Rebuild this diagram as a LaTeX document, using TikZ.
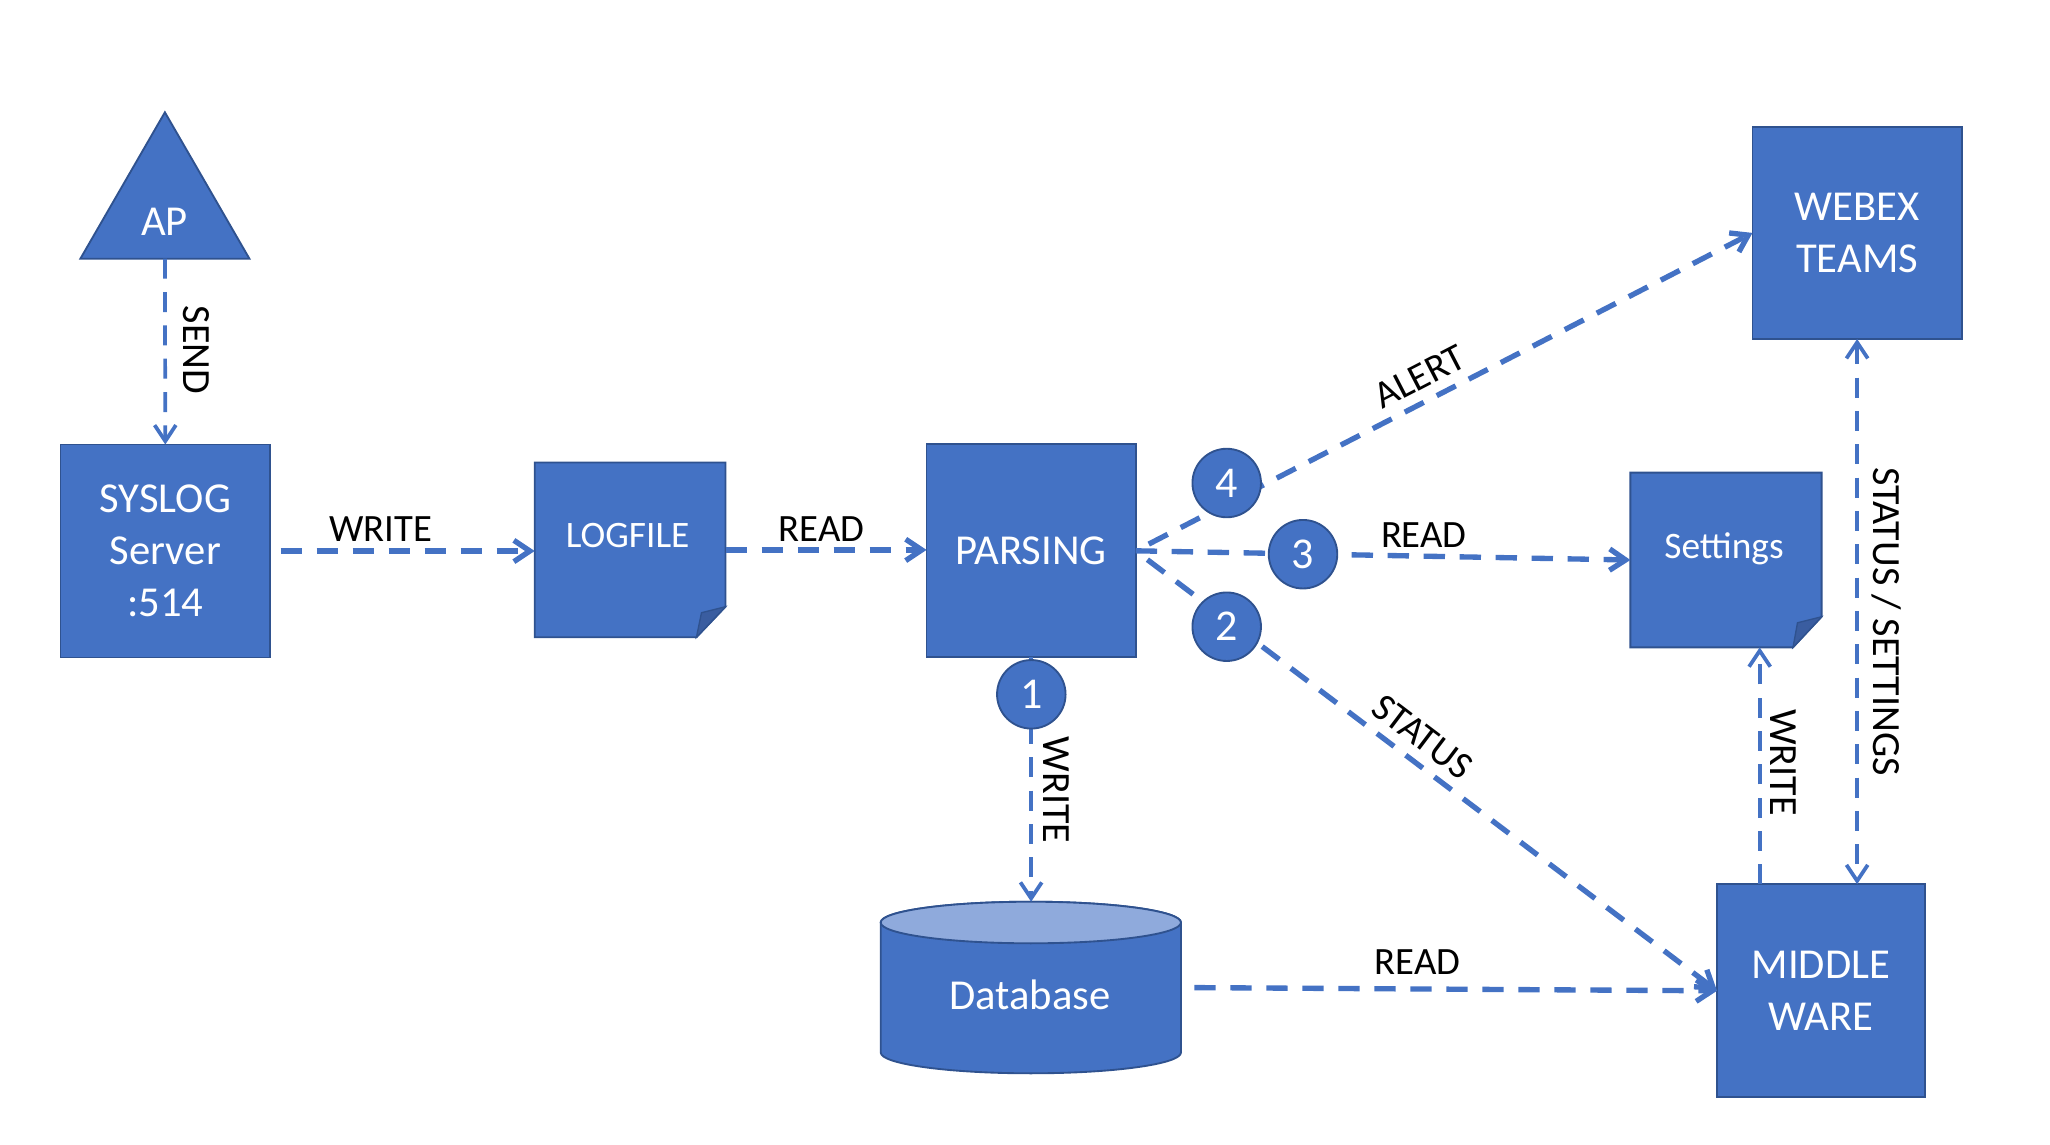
\documentclass[tikz,border=0pt]{standalone}
\usepackage{fontspec}
\setmainfont{Carlito}
\usetikzlibrary{arrows.meta,shapes.geometric,calc}
\definecolor{boxblue}{HTML}{4472C4}
\definecolor{boxedge}{HTML}{2F528F}
\definecolor{dbtop}{HTML}{8FAADC}
\definecolor{folddark}{HTML}{3A5DA0}
\begin{document}
\begin{tikzpicture}[x=0.375pt,y=-0.375pt,
  box/.style={draw=boxedge, fill=boxblue, line width=0.7pt, text=white,
    font=\fontsize{16}{19.5}\selectfont, align=center, inner sep=0pt, outer sep=0pt},
  anchorbox/.style={inner sep=0pt, outer sep=0pt},
  intext/.style={text=white, inner sep=0pt, font=\fontsize{16}{19.5}\selectfont},
  smalltext/.style={text=white, inner sep=0pt, font=\fontsize{14}{17}\selectfont},
  num/.style={circle, draw=boxedge, fill=boxblue, line width=0.7pt, text=white,
    minimum size=25.7pt, inner sep=0pt, font=\fontsize{16.5}{19}\selectfont},
  tipb/.tip={Straight Barb[length=6pt,width=8pt]},
  flow/.style={draw=boxblue, line width=2pt, dash pattern=on 8pt off 5.5pt, -tipb},
  thinflow/.style={draw=boxblue, line width=1.4pt, dash pattern=on 7.5pt off 5pt, -tipb},
  gapstart/.style={dash phase=8pt},
  lbl/.style={font=\fontsize{14.5}{17}\selectfont, text=black, inner sep=0pt},
  vlbl/.style={font=\fontsize{15}{17}\selectfont, text=black, inner sep=0pt, rotate=-90},
]
\useasboundingbox (0,0) rectangle (2050,1144);

% AP triangle
\node[regular polygon, regular polygon sides=3, minimum size=73.2pt, inner sep=0pt,
  outer sep=0pt, draw=boxedge, fill=boxblue, line width=0.7pt] (ap) at (164.9,209.9) {};
\node[intext] (aptext) at (164.6,221.6) {AP};

% SYSLOG
\node[box, minimum width=78.6pt, minimum height=79.9pt] (syslog) at (165.3,551) {SYSLOG\\Server\\:514};

% LOGFILE (note with folded corner)
\node[anchorbox, minimum width=71.55pt, minimum height=65.55pt] (lf) at (630.1,549.9) {};
\filldraw[draw=boxedge, fill=boxblue, line width=0.7pt]
  (lf.north west) -- (lf.north east) -- ($(lf.south east)+(0,-30.6)$)
  -- ($(lf.south east)+(-29.1,0)$) -- (lf.south west) -- cycle;
\filldraw[draw=boxedge, fill=folddark, line width=0.5pt]
  ($(lf.south east)+(0,-30.6)$) -- ($(lf.south east)+(-24,-24.6)$)
  -- ($(lf.south east)+(-29.1,0)$) -- cycle;
\node[smalltext] (lftext) at ($(lf.center)+(-2.5,-14)$) {LOGFILE};

% PARSING
\node[box, minimum width=78.45pt, minimum height=79.9pt] (parse) at (1031.1,550.8) {PARSING};

% Settings (note with folded corner)
\node[anchorbox, minimum width=71.7pt, minimum height=65.5pt] (set) at (1726,560) {};
\filldraw[draw=boxedge, fill=boxblue, line width=0.7pt]
  (set.north west) -- (set.north east) -- ($(set.south east)+(0,-30.6)$)
  -- ($(set.south east)+(-28.6,0)$) -- (set.south west) -- cycle;
\filldraw[draw=boxedge, fill=folddark, line width=0.5pt]
  ($(set.south east)+(0,-30.6)$) -- ($(set.south east)+(-24.1,-24.6)$)
  -- ($(set.south east)+(-28.6,0)$) -- cycle;
\node[smalltext] (settext) at (1724,549) {Settings};

% WEBEX TEAMS
\node[box, minimum width=78.45pt, minimum height=79.6pt] (webex) at (1857.1,232.9) {WEBEX\\TEAMS};

% MIDDLE WARE
\node[box, minimum width=78pt, minimum height=79.9pt] (mw) at (1821,990.8) {MIDDLE\\WARE};

% Database cylinder
\node[anchorbox, minimum width=112.6pt, minimum height=64.35pt] (db) at (1030.8,987.5) {};
\filldraw[draw=boxedge, fill=boxblue, line width=0.7pt]
  (880.7,922.5) -- (880.7,1052.5)
  arc[start angle=180, end angle=360, x radius=56.3pt, y radius=7.8pt]
  -- (1181,922.5)
  arc[start angle=0, end angle=180, x radius=56.3pt, y radius=7.8pt] -- cycle;
\filldraw[draw=boxedge, fill=dbtop, line width=0.7pt]
  (1030.8,922.5) ellipse[x radius=56.3pt, y radius=7.8pt];
\node[intext] (dbtext) at (1030,995.3) {Database};

% connectors
\draw[thinflow] (ap.south) -- (syslog.north);
\draw[flow, shorten <=3.9pt] (syslog.east) -- (syslog.east -| lf.west);
\draw[flow] (lf.east) -- (lf.east -| parse.west);
\draw[flow, gapstart] (parse.east) -- (webex.west);
\draw[flow] (parse.east) -- (set.west);
\draw[flow, gapstart] (parse.east) -- (mw.west);
\draw[thinflow] (parse.south) -- (parse.south |- db.north);
\draw[flow, shorten <=5pt] (db.east) -- (mw.west);
\coordinate (mwA) at ($(mw.north west)+(42.7,0)$);
\draw[thinflow] (mwA) -- (mwA |- set.south);
\draw[thinflow, tipb-tipb] (webex.south) -- (webex.south |- mw.north);

% numbered circles
\node[num] (c1) at (1031.3,694.3) {1};
\node[num] (c2) at (1226.7,626.7) {2};
\node[num] (c3) at (1303,554.2) {3};
\node[num] (c4) at (1226.7,483) {4};

% labels
\node[vlbl] (lsend) at (196,350) {SEND};
\node[lbl] (lw1) at (381,528.6) {WRITE};
\node[lbl] (lr1) at (821.4,529) {READ};
\node[lbl, rotate=27.3] (lalert) at (1419.8,376.7) {ALERT};
\node[lbl] (lr2) at (1423.8,535) {READ};
\node[lbl, rotate=-37.1] (lstatus) at (1422.7,736.7) {STATUS};
\node[vlbl] (lw2) at (1056,790) {WRITE};
\node[lbl] (lr3) at (1417.7,961.7) {READ};
\node[vlbl] (lw3) at (1783.5,762.5) {WRITE};
\node[vlbl] (lss) at (1887,621.7) {STATUS / SETTINGS};
\end{tikzpicture}
\end{document}
